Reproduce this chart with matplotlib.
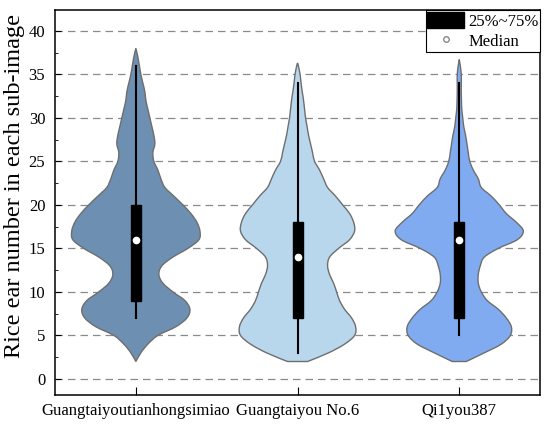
import numpy as np
import matplotlib.pyplot as plt
from matplotlib.patches import Patch, Rectangle, PathPatch
from matplotlib.path import Path
from matplotlib.lines import Line2D
from matplotlib.ticker import MultipleLocator

plt.rcParams['font.family'] = ['Liberation Serif', 'DejaVu Serif']

categories = ['Guangtaiyoutianhongsimiao', 'Guangtaiyou No.6', 'Qi1you387']
colors = ['#6d8fb1', '#b8d6ec', '#80abf1']

# violin outlines: value levels and half-width (density, px-ish units)
levels_1 = [2, 3, 4, 5, 6, 7, 8, 9, 10, 11, 12, 13, 14, 15, 16, 17, 18, 19, 20,
            21, 22, 23, 24, 25, 26, 27, 28, 29, 30, 31, 32, 33, 34, 35, 36, 37, 38]
dens_1 = [0, 5, 12, 22, 40, 51, 54, 49, 37, 27, 23, 26, 37, 52, 63, 64, 61, 55, 47,
          38, 29, 25, 22, 18, 17, 19, 18, 16, 14, 12, 10, 9, 7, 5, 3.5, 2, 0]

levels_2 = [2, 3, 4, 5, 6, 7, 8, 9, 10, 11, 12, 13, 14, 15, 16, 17, 18, 19, 20,
            21, 22, 23, 24, 25, 26, 27, 28, 29, 30, 31, 32, 33, 34, 35, 36, 36.3]
dens_2 = [10, 31, 47, 57, 58, 54, 47, 42, 39, 36, 32, 30, 32, 41, 52, 57, 56, 52, 45,
          38, 30, 26, 22, 17, 15, 13, 11, 9.5, 8, 7, 6, 4.7, 3.5, 2.5, 0.8, 0]

levels_3 = [2, 3, 4, 5, 6, 7, 8, 9, 10, 11, 12, 13, 14, 15, 16, 17, 18, 19, 20,
            21, 22, 23, 24, 25, 26, 27, 28, 29, 30, 31, 32, 33, 34, 35, 36, 36.7]
dens_3 = [7, 25, 42, 51, 52, 47, 39, 28, 22, 19, 19, 21, 25, 39, 58, 64, 57, 47, 40,
          32, 22, 19, 14, 10.5, 9, 7.7, 6.3, 4.5, 3.5, 2.5, 2.2, 2, 2, 2, 1, 0]

# box statistics: q1, median, q3, whisker low, whisker high
q1 = [9, 7, 7]
medians = [16, 14, 16]
q3 = [20, 18, 18]
whisk_lo = [7, 3, 5]
whisk_hi = [36, 34, 34]

levels = [levels_1, levels_2, levels_3]
dens = [dens_1, dens_2, dens_3]


def curve_through(pts):
    # cubic bezier segments passing through every read point
    pts = np.asarray(pts, dtype=float)
    ext = np.vstack([pts[0], pts, pts[-1]])
    verts, codes = [], []
    for k in range(len(pts) - 1):
        p0, p1, p2, p3 = ext[k], ext[k + 1], ext[k + 2], ext[k + 3]
        c1 = p1 + (p2 - p0) / 6
        c2 = p2 - (p3 - p1) / 6
        verts += [c1, c2, p2]
        codes += [Path.CURVE4] * 3
    return verts, codes


fig = plt.figure(figsize=(5.5, 4.32), dpi=100)
ax = fig.add_axes([0.1, 0.0856, 0.882, 0.8914])

for v in range(0, 45, 5):
    ax.axhline(v, color='#8a8a8a', lw=0.9, ls=(0, (6, 4)), zorder=0)

scale = 1 / 161.5
for i in range(3):
    pos = i + 1
    y = np.array(levels[i], dtype=float)
    w = np.array(dens[i]) * scale
    right = np.column_stack([pos + w, y])
    left = np.column_stack([pos - w, y])[::-1]
    verts = [right[0]]
    codes = [Path.MOVETO]
    vr, cr = curve_through(right)
    verts += vr
    codes += cr
    verts.append(left[0])
    codes.append(Path.LINETO)
    vl, cl = curve_through(left)
    verts += vl
    codes += cl
    verts.append(right[0])
    codes.append(Path.CLOSEPOLY)
    ax.add_patch(PathPatch(Path(verts, codes), facecolor=colors[i],
                           edgecolor='#6e6e6e', lw=1.0, zorder=2))
    ax.plot([pos, pos], [whisk_lo[i], whisk_hi[i]], color='black', lw=1.5, zorder=3)
    bw = 0.062
    ax.add_patch(Rectangle((pos - bw / 2, q1[i]), bw, q3[i] - q1[i],
                           facecolor='black', edgecolor='black', zorder=4))
    ax.plot(pos, medians[i], 'o', ms=4.5, mfc='white', mec='white', zorder=5)

ax.set_xlim(0.5, 3.5)
ax.set_ylim(-1.85, 42.4)
ax.set_xticks([1, 2, 3])
ax.set_xticklabels(categories, fontsize=12)
ax.yaxis.set_major_locator(MultipleLocator(5))
ax.yaxis.set_minor_locator(MultipleLocator(2.5))
ax.tick_params(axis='y', which='major', direction='in', length=4, labelsize=12, pad=7)
ax.tick_params(axis='y', which='minor', direction='in', length=2.5)
ax.tick_params(axis='x', direction='in', length=6, pad=6)
ax.set_ylabel('Rice ear number in each sub-image', fontsize=17.5)
ax.yaxis.set_label_coords(-0.062, 0.543)
for s in ax.spines.values():
    s.set_linewidth(1.1)

handles = [Patch(facecolor='black', edgecolor='black'),
           Line2D([], [], marker='o', ls='none', ms=4, mfc='white', mec='#888888')]
leg = ax.legend(handles, ['25%~75%', 'Median'], loc='upper right', fontsize=12,
                frameon=True, fancybox=False, edgecolor='black', framealpha=1,
                borderaxespad=0, handlelength=2.2, handleheight=1.15,
                borderpad=0.1, labelspacing=0.15, handletextpad=0.25)
leg.get_frame().set_linewidth(0.8)

fig.savefig('out.png', dpi=100)
